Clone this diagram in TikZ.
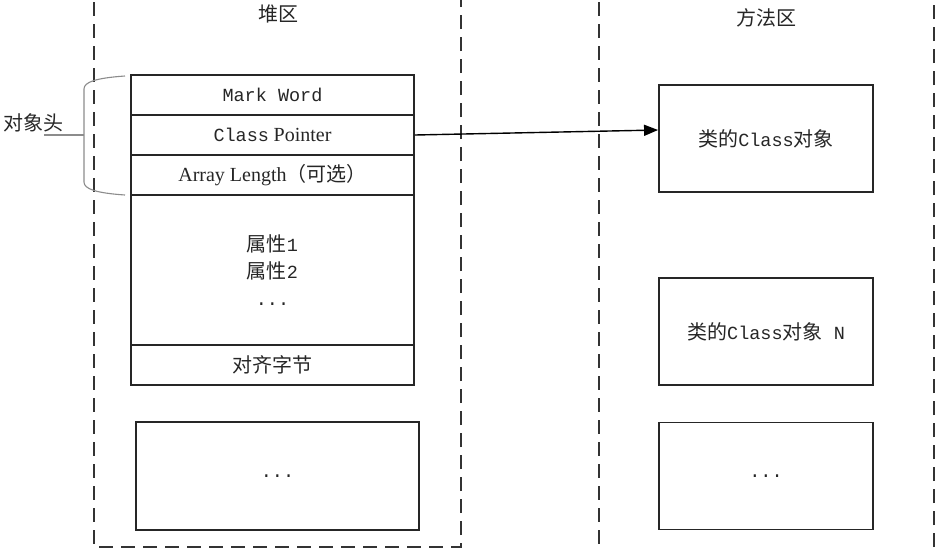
\documentclass[tikz,border=0pt]{standalone}
\usepackage{fontspec}
\setmainfont{Liberation Serif}
\setmonofont{Liberation Mono}
\newfontfamily\cjk{Noto Sans CJK SC}
\usetikzlibrary{arrows.meta}
\begin{document}
\begin{tikzpicture}[x=1pt,y=-1pt,
  region/.style={draw=black!80, line width=1.8pt, dash pattern=on 14pt off 8pt},
  cell/.style={draw=black!85, line width=1.9pt, minimum width=283pt, inner sep=0pt, text=black!85, font=\fontsize{18.5}{27}\selectfont, align=center},
  mbox/.style={draw=black!85, line width=1.9pt, minimum width=214pt, minimum height=107pt, inner sep=0pt, text=black!85, font=\fontsize{18.5}{27}\selectfont},
  lbl/.style={text=black!85, inner sep=0pt, font=\fontsize{20}{24}\selectfont\cjk},
  brace/.style={draw=black!45, line width=1.1pt},
  link/.style={draw=black, line width=1.4pt, -{Triangle[length=14pt,width=11pt]}}
]
\useasboundingbox (0,0) rectangle (945,550);
\clip (0,0) rectangle (945,550);
\fill[white] (0,0) rectangle (945,550);

% regions
\draw[region] (94,-20) rectangle (461,547);
\draw[region] (599,-20) rectangle (934,580);
\node[lbl] (heap) at (278,14) {堆区};
\node[lbl] (method) at (766,18) {方法区};

% object layout
\node[cell, minimum height=40pt] (mw) at (272.5,95) {\ttfamily Mark Word};
\node[cell, minimum height=40pt] (cp) at (272.5,135) {{\ttfamily Class} {\fontsize{20}{24}\selectfont Pointer}};
\node[cell, minimum height=40pt] (al) at (272.5,175) {\fontsize{20}{24}\selectfont Array Length{\cjk （可选）}};
\node[cell, minimum height=150pt] (attr) at (272.5,270) {{\cjk\fontsize{20}{27}\selectfont 属性}{\ttfamily 1}\\{\cjk\fontsize{20}{27}\selectfont 属性}{\ttfamily 2}\\{\ttfamily ...}};
\node[cell, minimum height=40pt] (pad) at (272.5,365) {\cjk\fontsize{20}{24}\selectfont 对齐字节};
\node[cell, minimum height=108pt] (more) at (277.5,476) {\ttfamily ...};

% method area
\node[mbox] (m1) at (766,138.5) {{\cjk\fontsize{20}{24}\selectfont 类的}{\ttfamily Class}{\cjk\fontsize{20}{24}\selectfont 对象}};
\node[mbox] (m2) at (766,331.5) {{\cjk\fontsize{20}{24}\selectfont 类的}{\ttfamily Class}{\cjk\fontsize{20}{24}\selectfont 对象}{\ttfamily\ N}};
\node[mbox] (m3) at (766,476) {\ttfamily ...};

% arrow
\draw[link] (cp.east) -- ([yshift=8.5pt]m1.west);

% header brace
\draw[brace] (125,76) .. controls (96,78) and (84,82) .. (84,89) -- (84,182) .. controls (84,189) and (96,193) .. (125,195);
\coordinate (tick) at (84,135);
\node[lbl] (hdr) at (33,123) {对象头};
\draw[brace] (tick) -- ++(-40,0);
\end{tikzpicture}
\end{document}
